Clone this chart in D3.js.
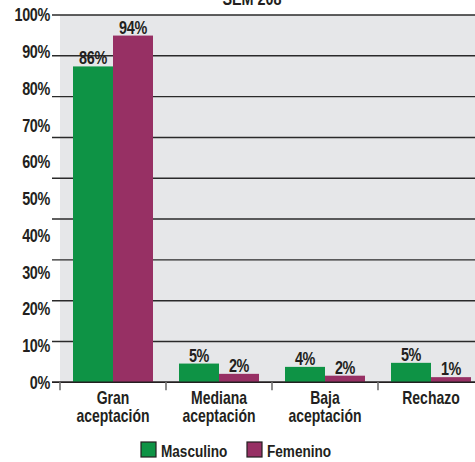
<!DOCTYPE html>
<html>
<head>
<meta charset="utf-8">
<script src="https://cdn.jsdelivr.net/npm/d3@7"></script>
<style>
  body { margin: 0; background: #fff; }
  text { font-family: "Liberation Sans", Arial, sans-serif; font-weight: bold; fill: #231f20; }
</style>
</head>
<body>
<div id="chart"></div>
<script>
// data
var categories = [["Gran", "aceptación"], ["Mediana", "aceptación"], ["Baja", "aceptación"], ["Rechazo"]];
var series = ["Masculino", "Femenino"];
var masculino = [86, 5.1, 4.2, 5.3];
var femenino = [94.4, 2.3, 1.8, 1.4];
var yTicks = [0, 10, 20, 30, 40, 50, 60, 70, 80, 90, 100];
var colors = ["#0e9345", "#973064"];
var title = "SEM 208";

var W = 475, H = 462;
var NARROW = 0.8;   // squeeze Liberation Sans into a condensed look

var svg = d3.select("#chart").append("svg")
    .attr("width", W)
    .attr("height", H);

// put a text at (x, y) and squeeze it horizontally
function at(x, y) {
  return "translate(" + x + "," + y + ") scale(" + NARROW + ",1)";
}

var catNames = categories.map(function(c) { return c.join(" "); });

var x0 = d3.scaleBand().domain(catNames).range([60, 484]);
var x1 = d3.scaleBand().domain(series).range([0, x0.bandwidth()]).paddingOuter(0.325);
var y = d3.scaleLinear().domain([0, 100]).range([382.3, 15]);

// plot background
svg.append("rect")
    .attr("x", 60).attr("y", y(100))
    .attr("width", W - 60).attr("height", y(0) - y(100))
    .attr("fill", "#e6e7e9");

// title (cut off at the top, as in the source)
svg.append("text")
    .attr("transform", at(252, 4.5))
    .attr("text-anchor", "middle")
    .style("font-size", "18px")
    .text(title);

// horizontal rules: the source draws nine equal intervals
var gridVals = d3.range(10).map(function(i) { return i * 100 / 9; });
svg.append("g").selectAll("line")
    .data(gridVals)
    .enter().append("line")
      .attr("x1", 52).attr("x2", W)
      .attr("y1", function(d) { return y(d); })
      .attr("y2", function(d) { return y(d); })
      .attr("stroke", "#2a2a2a")
      .attr("stroke-width", 1.4);

// y tick labels
svg.append("g").selectAll("text")
    .data(yTicks)
    .enter().append("text")
      .attr("transform", function(d) { return at(50, y(d)); })
      .attr("dy", "0.36em")
      .attr("text-anchor", "end")
      .style("font-size", "18px")
      .style("letter-spacing", "-0.4px")
      .text(function(d) { return d + "%"; });

// bars
var rows = catNames.map(function(c, i) {
  return { cat: c, vals: [masculino[i], femenino[i]] };
});

var groups = svg.append("g").selectAll("g")
    .data(rows)
    .enter().append("g")
      .attr("transform", function(d) { return "translate(" + x0(d.cat) + ",0)"; });

groups.selectAll("rect")
    .data(function(d) { return d.vals.map(function(v, j) { return { s: series[j], v: v, j: j }; }); })
    .enter().append("rect")
      .attr("x", function(d) { return x1(d.s); })
      .attr("y", function(d) { return y(d.v); })
      .attr("width", x1.bandwidth())
      .attr("height", function(d) { return y(0) - y(d.v); })
      .attr("fill", function(d) { return colors[d.j]; });

groups.selectAll("text")
    .data(function(d) { return d.vals.map(function(v, j) { return { s: series[j], v: v }; }); })
    .enter().append("text")
      .attr("transform", function(d) { return at(x1(d.s) + x1.bandwidth() / 2, y(d.v) - 2); })
      .attr("text-anchor", "middle")
      .style("font-size", "18px")
      .style("letter-spacing", "-0.4px")
      .text(function(d) { return Math.round(d.v) + "%"; });

// x axis line and ticks
svg.append("line")
    .attr("x1", 52).attr("x2", W)
    .attr("y1", y(0)).attr("y2", y(0))
    .attr("stroke", "#231f20").attr("stroke-width", 1.6);

svg.append("g").selectAll("line")
    .data(catNames)
    .enter().append("line")
      .attr("x1", function(d) { return x0(d); })
      .attr("x2", function(d) { return x0(d); })
      .attr("y1", y(0)).attr("y2", y(0) + 8)
      .attr("stroke", "#808080").attr("stroke-width", 1.8);

// category labels
var catLabels = svg.append("g").selectAll("text")
    .data(categories)
    .enter().append("text")
      .attr("transform", function(d, i) { return at(x0(catNames[i]) + x0.bandwidth() / 2, 403.5); })
      .attr("text-anchor", "middle")
      .style("font-size", "17.5px");

catLabels.selectAll("tspan")
    .data(function(d) { return d; })
    .enter().append("tspan")
      .attr("x", 0)
      .attr("dy", function(d, i) { return i === 0 ? 0 : 18.5; })
      .text(function(d) { return d; });

// legend
var legendX = [141, 247];
var legend = svg.append("g").selectAll("g")
    .data(series)
    .enter().append("g")
      .attr("transform", function(d, i) { return "translate(" + legendX[i] + ",442)"; });

legend.append("rect")
    .attr("width", 15).attr("height", 15)
    .attr("fill", function(d, i) { return colors[i]; })
    .attr("stroke", "#231f20").attr("stroke-width", 1.2);

legend.append("text")
    .attr("transform", at(20, 14.5))
    .style("font-size", "17px")
    .text(function(d) { return d; });
</script>
</body>
</html>
